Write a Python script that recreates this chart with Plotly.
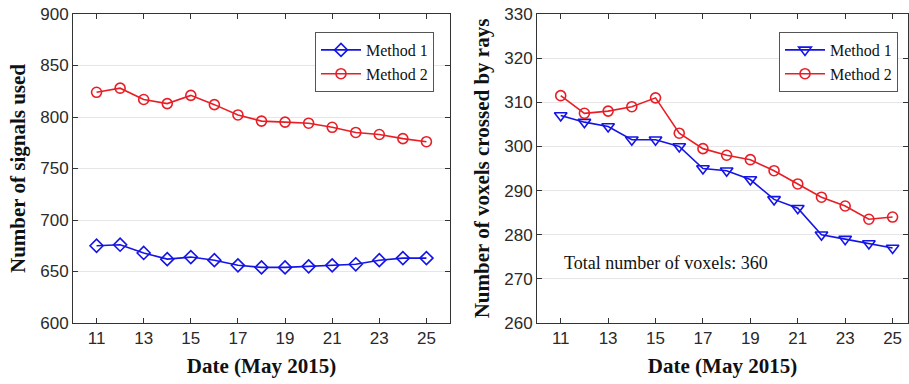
import plotly.graph_objects as go

dates = list(range(11, 26))
signals_m1 = [675, 676, 668, 662, 664, 661, 656, 654, 654, 655, 656, 657, 661, 663, 663]
signals_m2 = [824, 828, 817, 813, 821, 812, 802, 796, 795, 794, 790, 785, 783, 779, 776]
voxels_m1 = [307, 305.5, 304.5, 301.5, 301.5, 300, 295, 294.5, 292.5, 288, 286, 280, 279, 278, 277]
voxels_m2 = [311.5, 307.5, 308, 309, 311, 303, 299.5, 298, 297, 294.5, 291.5, 288.5, 286.5, 283.5, 284]
x_ticks = [11, 13, 15, 17, 19, 21, 23, 25]
left_yticks = [600, 650, 700, 750, 800, 850, 900]
right_yticks = [260, 270, 280, 290, 300, 310, 320, 330]

BLUE = "#1414e6"
RED = "#e81e26"

fig = go.Figure()
fig.add_trace(go.Scatter(x=dates, y=signals_m1, name="Method 1", mode="lines+markers",
                         line=dict(color=BLUE, width=1.6),
                         marker=dict(symbol="diamond-open", size=10, color=BLUE, line=dict(width=1.6)),
                         xaxis="x", yaxis="y", legend="legend"))
fig.add_trace(go.Scatter(x=dates, y=signals_m2, name="Method 2", mode="lines+markers",
                         line=dict(color=RED, width=1.6),
                         marker=dict(symbol="circle-open", size=10, color=RED, line=dict(width=1.6)),
                         xaxis="x", yaxis="y", legend="legend"))
fig.add_trace(go.Scatter(x=dates, y=voxels_m1, name="Method 1", mode="lines+markers",
                         line=dict(color=BLUE, width=1.6),
                         marker=dict(symbol="triangle-down-open", size=11, color=BLUE, line=dict(width=1.6)),
                         xaxis="x2", yaxis="y2", legend="legend2"))
fig.add_trace(go.Scatter(x=dates, y=voxels_m2, name="Method 2", mode="lines+markers",
                         line=dict(color=RED, width=1.6),
                         marker=dict(symbol="circle-open", size=10, color=RED, line=dict(width=1.6)),
                         xaxis="x2", yaxis="y2", legend="legend2"))

W, H = 909, 384
tickfont = dict(family="Liberation Sans, Arial", size=17, color="#2a2a2a")
titlefont = dict(family="Liberation Serif, Times New Roman", size=21, color="#111111")
legfont = dict(family="Liberation Serif, Times New Roman", size=16, color="#111111")
axis_common = dict(showline=True, linecolor="#333333", linewidth=1, mirror="ticks",
                   ticks="inside", ticklen=5, tickcolor="#333333", tickfont=tickfont,
                   zeroline=False, automargin=False)

fig.update_layout(
    width=W, height=H, margin=dict(l=0, r=0, t=0, b=0),
    paper_bgcolor="white", plot_bgcolor="white", showlegend=True,
    xaxis=dict(domain=[73 / W, 450 / W], range=[10, 26], tickvals=x_ticks, showgrid=False,
               title=dict(text="<b>Date (May 2015)</b>", font=titlefont, standoff=10),
               anchor="y", **axis_common),
    yaxis=dict(domain=[1 - 323 / H, 1 - 14 / H], range=[600, 900], tickvals=left_yticks,
               showgrid=True, gridcolor="#e6e6e6", gridwidth=1,
               title=dict(text="<b>Number of signals used</b>", font=titlefont, standoff=8),
               anchor="x", **axis_common),
    xaxis2=dict(domain=[537 / W, 908 / W], range=[10, 25.65], tickvals=x_ticks, showgrid=False,
                title=dict(text="<b>Date (May 2015)</b>", font=titlefont, standoff=10),
                anchor="y2", **axis_common),
    yaxis2=dict(domain=[1 - 323 / H, 1 - 14 / H], range=[260, 330], tickvals=right_yticks,
                showgrid=True, gridcolor="#e6e6e6", gridwidth=1,
                title=dict(text="<b>Number of voxels crossed by rays</b>", font=titlefont, standoff=8),
                anchor="x2", **axis_common),
    legend=dict(x=434 / W, y=1 - 32 / H, xanchor="right", yanchor="top",
                bordercolor="#555555", borderwidth=1, bgcolor="white",
                font=legfont, tracegroupgap=0, itemwidth=40),
    legend2=dict(x=898 / W, y=1 - 32 / H, xanchor="right", yanchor="top",
                 bordercolor="#555555", borderwidth=1, bgcolor="white",
                 font=legfont, tracegroupgap=0, itemwidth=40),
    annotations=[dict(x=11.05, y=273.6, xref="x2", yref="y2", xanchor="left", yanchor="middle",
                      text="Total number of voxels: 360", showarrow=False,
                      font=dict(family="Liberation Serif, Times New Roman", size=18, color="#111111"))],
)

fig.write_html("out.html", config={"displayModeBar": False},
               post_script="document.body.style.margin='0px';document.body.style.overflow='hidden';")
